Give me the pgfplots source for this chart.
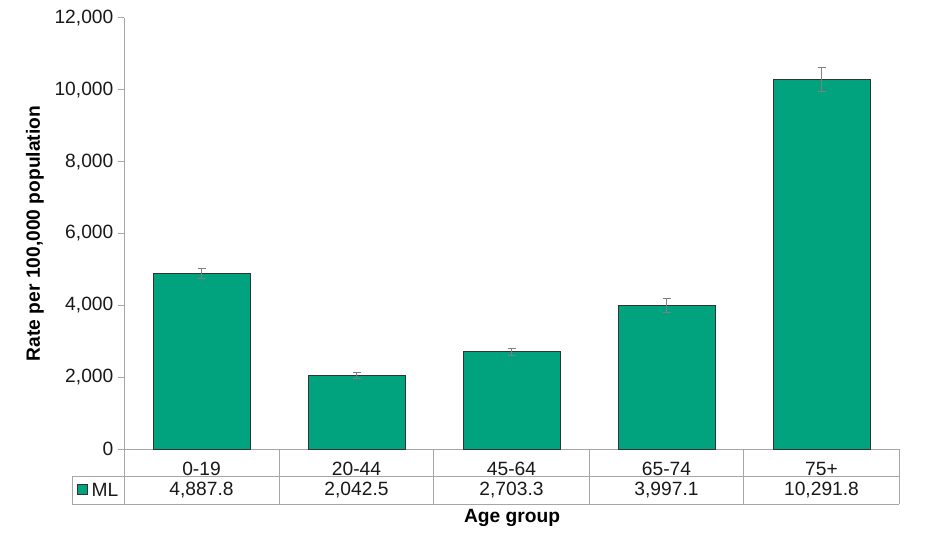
\documentclass[border=0pt]{standalone}
\usepackage{pgfplots}
\pgfplotsset{compat=1.18}
\usepackage{pgfplotstable}
\usepackage{fontspec}
\setmainfont{Liberation Sans}
\definecolor{barg}{RGB}{0,163,126}
\definecolor{axg}{RGB}{166,166,166}
\definecolor{errg}{RGB}{128,128,128}
\definecolor{txt}{RGB}{25,25,25}

\pgfplotstableread{
x y err
0 4887.8 140
1 2042.5 75
2 2703.3 95
3 3997.1 195
4 10291.8 335
}\datatable

\newcommand{\tf}{\fontsize{14.4}{17}\selectfont}

\begin{document}
\begin{tikzpicture}[x=0.75pt,y=0.75pt]
\path[use as bounding box] (0,0) rectangle (930,550);
\begin{axis}[
  at={(93pt,75.75pt)}, anchor=south west,
  scale only axis, width=581.25pt, height=323.25pt,
  xmin=-0.5, xmax=4.5, ymin=0, ymax=12000,
  axis x line*=bottom, axis y line*=left,
  axis line style={axg, line width=0.75pt},
  xtick={0,1,2,3,4},
  xticklabels={0-19,20-44,45-64,65-74,75+},
  x tick style={draw=none},
  xticklabel style={font=\tf, text=txt, anchor=center, yshift=-10.5pt},
  ytick={0,2000,4000,6000,8000,10000,12000},
  y tick style={axg, line width=0.75pt},
  tick align=outside, major tick length=4.5pt,
  yticklabel style={font=\tf, text=txt},
  scaled y ticks=false,
  /pgf/number format/.cd, 1000 sep={,}, assume math mode=true,
  /pgfplots/.cd,
  clip=false,
]
\addplot[ybar, bar width=72.75pt, fill=barg, draw=black!80, line width=0.75pt,
  error bars/.cd, y dir=both, y explicit,
  error bar style={errg, line width=0.75pt},
  error mark options={rotate=90, mark size=3pt, errg, line width=0.75pt}]
  table[x=x, y=y, y error=err]{\datatable};
\node[font=\tf, text=txt] at (axis cs:0,0) [yshift=-30.75pt] {4,887.8};
\node[font=\tf, text=txt] at (axis cs:1,0) [yshift=-30.75pt] {2,042.5};
\node[font=\tf, text=txt] at (axis cs:2,0) [yshift=-30.75pt] {2,703.3};
\node[font=\tf, text=txt] at (axis cs:3,0) [yshift=-30.75pt] {3,997.1};
\node[font=\tf, text=txt] at (axis cs:4,0) [yshift=-30.75pt] {10,291.8};
\end{axis}
\draw[axg, line width=0.75pt] (72,74) -- (899,74) (72,46) -- (899,46)
  (72,74) -- (72,46) (124,101) -- (124,46) (279,101) -- (279,46)
  (433,101) -- (433,46) (589,101) -- (589,46) (743,101) -- (743,46) (899,101) -- (899,46);
\filldraw[fill=barg, draw=black!80, line width=0.75pt] (77,66) rectangle (87,56);
\node[font=\tf, text=txt] at (105,60.5) {ML};
\node[font=\tf\bfseries, text=black] at (512,32) {Age group};
\node[font=\tf\bfseries, text=black, rotate=90] at (35,316.5) {Rate per 100,000 population};
\end{tikzpicture}
\end{document}
